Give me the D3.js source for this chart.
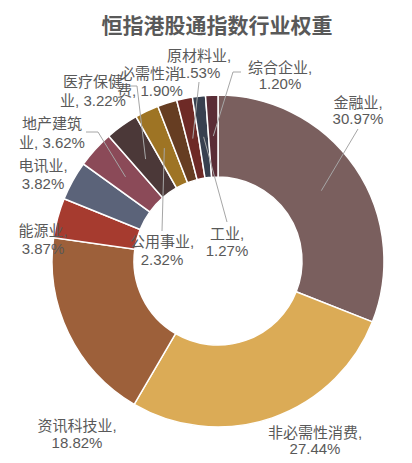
<!DOCTYPE html>
<html>
<head>
<meta charset="utf-8">
<script src="https://cdn.jsdelivr.net/npm/d3@7"></script>
<style>
  body { margin: 0; background: #fff; }
  text { font-family: "Liberation Sans", "Noto Sans CJK SC", sans-serif; }
</style>
</head>
<body>
<svg id="chart"></svg>
<script>
// industry weights, clockwise from 12 o'clock
const sectors = ["金融业", "非必需性消费", "资讯科技业", "能源业", "电讯业", "地产建筑业",
  "医疗保健业", "公用事业", "必需性消费", "原材料业", "工业", "综合企业"];
const weights = [30.97, 27.44, 18.82, 3.87, 3.82, 3.62, 3.22, 2.32, 1.90, 1.53, 1.27, 1.20];
const colors = ["#7a5f5e", "#dbab56", "#9d603a", "#a63b2f", "#5b6379", "#8b4a58",
  "#4b3838", "#9e7424", "#663d22", "#6e2a26", "#38404f", "#5a2d36"];

// label placement: where to break the text, line centres, optional leader start
const labelLayout = [
  { brk: 4, x: 358, y: [102, 118], lead: [[358, 129]] },
  { brk: 7, x: 315, y: [432, 448] },
  { brk: 6, x: 77, y: [425, 442] },
  { brk: 4, x: 43, y: [230, 248] },
  { brk: 4, x: 43, y: [165, 183] },
  { brk: 4, x: 52, y: [123, 142], lead: [[86, 132], [98, 132]] },
  { brk: 4, x: 93, y: [81, 100], lead: [[130, 86], [137, 86]] },
  { brk: 5, x: 162, y: [241, 259], lead: [[162, 231]] },
  { brk: 4, x: 150, y: [73, 90] },
  { brk: 5, x: 199, y: [55, 72], lead: [[199, 82]] },
  { brk: 3, x: 227, y: [233, 250], lead: [[227, 222]] },
  { brk: 5, x: 280, y: [67, 83], lead: [[241, 72], [233, 72]] }
];

const width = 412, height = 463;
const cx = 218, cy = 261, outerR = 166, innerR = 84;

const data = sectors.map((s, i) => ({ name: s, value: weights[i], color: colors[i], layout: labelLayout[i] }));

const svg = d3.select("#chart").attr("width", width).attr("height", height);

svg.append("text")
  .attr("x", 217)
  .attr("y", 25)
  .attr("text-anchor", "middle")
  .attr("dominant-baseline", "central")
  .attr("font-size", 21)
  .attr("font-weight", "bold")
  .attr("fill", "#595959")
  .text("恒指港股通指数行业权重");

const pie = d3.pie().sort(null).value(d => d.value);
const arc = d3.arc().innerRadius(innerR).outerRadius(outerR);
const arcs = pie(data);

const g = svg.append("g").attr("transform", `translate(${cx},${cy})`);

g.selectAll("path.slice")
  .data(arcs)
  .join("path")
  .attr("class", "slice")
  .attr("d", arc)
  .attr("fill", d => d.data.color)
  .attr("stroke", "#fff")
  .attr("stroke-width", 1.5);

// leader lines end at the slice centroid
const line = d3.line();
svg.selectAll("path.leader")
  .data(arcs.filter(d => d.data.layout.lead))
  .join("path")
  .attr("class", "leader")
  .attr("fill", "none")
  .attr("stroke", "#a6a6a6")
  .attr("stroke-width", 1)
  .attr("d", d => {
    const c = arc.centroid(d);
    return line(d.data.layout.lead.concat([[c[0] + cx, c[1] + cy]]));
  });

const labels = svg.selectAll("text.lbl")
  .data(data)
  .join("text")
  .attr("class", "lbl")
  .attr("text-anchor", "middle")
  .attr("dominant-baseline", "central")
  .attr("font-size", 15)
  .attr("fill", "#595959");

labels.each(function(d) {
  const full = `${d.name}, ${d.value.toFixed(2)}%`;
  const parts = [full.slice(0, d.layout.brk).trim(), full.slice(d.layout.brk).trim()];
  d3.select(this).selectAll("tspan")
    .data(parts)
    .join("tspan")
    .attr("x", d.layout.x)
    .attr("y", (p, i) => d.layout.y[i])
    .text(p => p);
});
</script>
</body>
</html>
